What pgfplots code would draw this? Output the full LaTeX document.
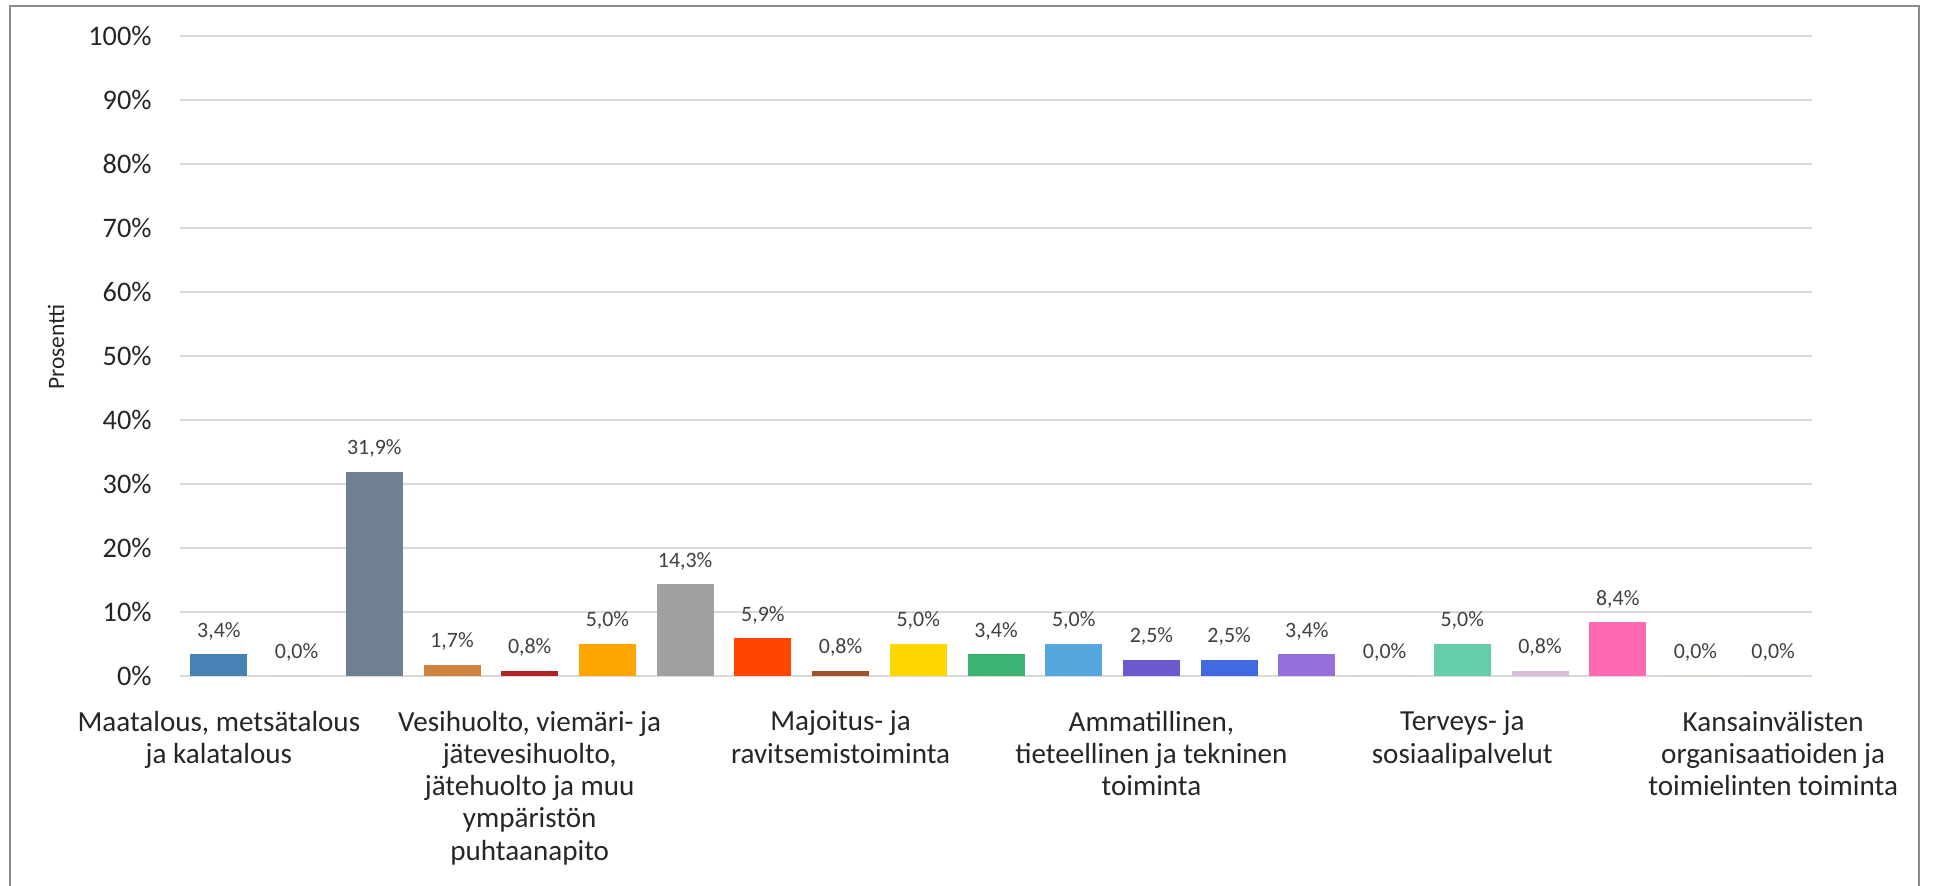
\documentclass[border=0pt]{standalone}
\usepackage{fontspec}
\setmainfont{Carlito}
\usepackage{pgfplots}
\pgfplotsset{compat=1.18}

\definecolor{txt}{HTML}{262626}
\definecolor{lbl}{HTML}{404040}
\definecolor{gridc}{HTML}{D9D9D9}
\definecolor{framec}{HTML}{8C8C8C}
\definecolor{c01}{HTML}{4682B4}
\definecolor{c02}{HTML}{87CEEB}
\definecolor{c03}{HTML}{708090}
\definecolor{c04}{HTML}{CD853F}
\definecolor{c05}{HTML}{B22222}
\definecolor{c06}{HTML}{FFA500}
\definecolor{c07}{HTML}{A0A0A0}
\definecolor{c08}{HTML}{FF4500}
\definecolor{c09}{HTML}{A0522D}
\definecolor{c10}{HTML}{FFD700}
\definecolor{c11}{HTML}{3CB371}
\definecolor{c12}{HTML}{55A8DE}
\definecolor{c13}{HTML}{6A5ACD}
\definecolor{c14}{HTML}{4169E1}
\definecolor{c15}{HTML}{9370DB}
\definecolor{c16}{HTML}{20B2AA}
\definecolor{c17}{HTML}{66CDAA}
\definecolor{c18}{HTML}{D8BFD8}
\definecolor{c19}{HTML}{FF69B4}
\definecolor{c20}{HTML}{DAA520}
\definecolor{c21}{HTML}{8FBC8F}

\begin{document}
\begin{tikzpicture}
\useasboundingbox (0,0) rectangle (966.5bp,443bp);
\draw[framec, line width=1bp] (5bp,0) -- (5bp,440bp) -- (959.5bp,440bp) -- (959.5bp,0);
\begin{axis}[
  at={(90bp,105bp)}, anchor=south west,
  scale only axis, width=816bp, height=320bp,
  xmin=-0.5, xmax=20.5, ymin=0, ymax=100,
  ybar, bar width=28.5bp, bar shift=0pt,
  axis line style={draw=none},
  major tick style={draw=none},
  ymajorgrids, grid style={gridc, line width=1bp},
  /pgf/number format/assume math mode=true,
  ytick={0,10,...,100},
  yticklabel={\pgfmathprintnumber{\tick}\%},
  yticklabel style={font=\fontsize{14.2}{16}\selectfont, text=txt, anchor=east, inner sep=0pt, xshift=-14bp},
  xtick={0,4,8,12,16,20},
  xticklabels={
    {Maatalous, metsätalous\\ja kalatalous},
    {Vesihuolto, viemäri- ja\\jätevesihuolto,\\jätehuolto ja muu\\ympäristön\\puhtaanapito},
    {Majoitus- ja\\ravitsemistoiminta},
    {Ammatillinen,\\tieteellinen ja tekninen\\toiminta},
    {Terveys- ja\\sosiaalipalvelut},
    {Kansainvälisten\\organisaatioiden ja\\toimielinten toiminta}},
  xticklabel style={font=\fontsize{14.6}{16.2}\selectfont, text=txt, align=center, anchor=north, inner sep=0pt, yshift=-13bp},
  ylabel={Prosentti},
  ylabel style={font=\fontsize{11.8}{13}\selectfont, text=txt, at={(axis description cs:-0.076,0.514)}, anchor=center},
  nodes near coords={\pgfmathprintnumber[fixed,fixed zerofill,precision=1,use comma]{\pgfplotspointmeta}\%},
  nodes near coords style={font=\fontsize{11}{12}\selectfont, text=lbl, anchor=south, inner sep=0pt, yshift=7bp},
]
\addplot[fill=c01, draw=none] coordinates {(0,3.4)};
\addplot[fill=c02, draw=none] coordinates {(1,0.0)};
\addplot[fill=c03, draw=none] coordinates {(2,31.9)};
\addplot[fill=c04, draw=none] coordinates {(3,1.7)};
\addplot[fill=c05, draw=none] coordinates {(4,0.8)};
\addplot[fill=c06, draw=none] coordinates {(5,5.0)};
\addplot[fill=c07, draw=none] coordinates {(6,14.3)};
\addplot[fill=c08, draw=none] coordinates {(7,5.9)};
\addplot[fill=c09, draw=none] coordinates {(8,0.8)};
\addplot[fill=c10, draw=none] coordinates {(9,5.0)};
\addplot[fill=c11, draw=none] coordinates {(10,3.4)};
\addplot[fill=c12, draw=none] coordinates {(11,5.0)};
\addplot[fill=c13, draw=none] coordinates {(12,2.5)};
\addplot[fill=c14, draw=none] coordinates {(13,2.5)};
\addplot[fill=c15, draw=none] coordinates {(14,3.4)};
\addplot[fill=c16, draw=none] coordinates {(15,0.0)};
\addplot[fill=c17, draw=none] coordinates {(16,5.0)};
\addplot[fill=c18, draw=none] coordinates {(17,0.8)};
\addplot[fill=c19, draw=none] coordinates {(18,8.4)};
\addplot[fill=c20, draw=none] coordinates {(19,0.0)};
\addplot[fill=c21, draw=none] coordinates {(20,0.0)};
\end{axis}
\end{tikzpicture}
\end{document}
